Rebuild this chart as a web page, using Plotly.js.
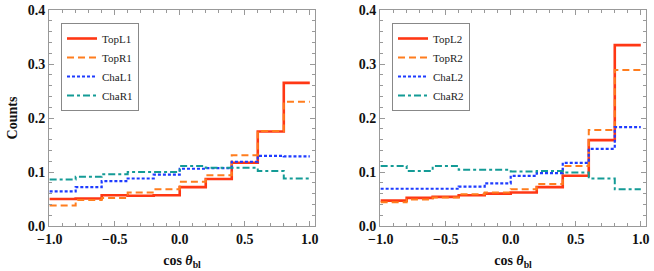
<!DOCTYPE html>
<html>
<head>
<meta charset="utf-8">
<script src="https://cdn.plot.ly/plotly-3.0.1.min.js"></script>
<style>html,body{margin:0;padding:0;background:#fff;}#chart{width:654px;height:271px;}</style>
</head>
<body>
<div id="chart"></div>
<script>
// Bin edges of cos(theta_bl), 10 bins of width 0.2
const binEdges = [-1.0, -0.8, -0.6, -0.4, -0.2, 0.0, 0.2, 0.4, 0.6, 0.8, 1.0];

// Left panel
const topL1 = [0.050, 0.051, 0.057, 0.056, 0.057, 0.072, 0.087, 0.117, 0.175, 0.265];
const topR1 = [0.038, 0.048, 0.052, 0.062, 0.068, 0.082, 0.094, 0.131, 0.176, 0.230];
const chaL1 = [0.064, 0.072, 0.083, 0.088, 0.095, 0.106, 0.107, 0.119, 0.130, 0.129];
const chaR1 = [0.086, 0.091, 0.096, 0.100, 0.100, 0.111, 0.108, 0.108, 0.102, 0.088];

// Right panel
const topL2 = [0.047, 0.052, 0.054, 0.057, 0.060, 0.062, 0.072, 0.093, 0.159, 0.335];
const topR2 = [0.044, 0.049, 0.053, 0.059, 0.062, 0.068, 0.078, 0.111, 0.178, 0.289];
const chaL2 = [0.069, 0.069, 0.069, 0.073, 0.079, 0.093, 0.098, 0.117, 0.143, 0.183];
const chaR2 = [0.111, 0.102, 0.111, 0.104, 0.104, 0.101, 0.102, 0.099, 0.088, 0.068];

const namesLeft = ['TopL1', 'TopR1', 'ChaL1', 'ChaR1'];
const namesRight = ['TopL2', 'TopR2', 'ChaL2', 'ChaR2'];
const yTickVals = [0.0, 0.1, 0.2, 0.3, 0.4];
const xTickVals = [-1.0, -0.5, 0.0, 0.5, 1.0];

const styles = [
  {color: 'rgb(255,55,20)', width: 2.6, dash: 'solid'},
  {color: 'rgb(255,125,30)', width: 2, dash: '7px,4px'},
  {color: 'rgb(30,60,255)', width: 2.2, dash: '3px,2px'},
  {color: 'rgb(20,155,150)', width: 2, dash: '7px,3px,3px,3px'}
];

function stepY(vals) { return vals.concat([vals[vals.length - 1]]); }

const traces = [];
[topL1, topR1, chaL1, chaR1].forEach((v, i) => {
  traces.push({x: binEdges, y: stepY(v), type: 'scatter', mode: 'lines', line: Object.assign({shape: 'hv'}, styles[i]),
    name: namesLeft[i], xaxis: 'x', yaxis: 'y', legend: 'legend', hoverinfo: 'skip'});
});
[topL2, topR2, chaL2, chaR2].forEach((v, i) => {
  traces.push({x: binEdges, y: stepY(v), type: 'scatter', mode: 'lines', line: Object.assign({shape: 'hv'}, styles[i]),
    name: namesRight[i], xaxis: 'x2', yaxis: 'y2', legend: 'legend2', hoverinfo: 'skip'});
});

const W = 654, H = 271;
const tickFont = {family: 'Liberation Serif, Times New Roman, serif', size: 14, color: '#111', weight: 'bold'};
const titleFont = {family: 'Liberation Serif, Times New Roman, serif', size: 14, color: '#111', weight: 'bold'};
const frame = '#999999';

function xAxis(d0, d1, anchor) {
  return {
    domain: [d0 / W, d1 / W], anchor: anchor, range: [-1.005, 1.04],
    tickvals: xTickVals, tickformat: '.1f', tickfont: tickFont,
    ticks: 'inside', ticklen: 5, tickwidth: 1, tickcolor: frame,
    minor: {dtick: 0.1, tick0: 0, ticks: 'inside', ticklen: 3, tickcolor: frame, showgrid: false},
    showline: true, linecolor: frame, linewidth: 1, mirror: 'allticks',
    showgrid: false, zeroline: false,
    title: {text: 'cos <i>θ</i><sub>bl</sub>', font: titleFont, standoff: 9}
  };
}
function yAxis(anchor, showTitle) {
  return {
    domain: [1 - 226 / H, 1 - 10 / H], anchor: anchor, range: [0, 0.4],
    tickvals: yTickVals, tickformat: '.1f', tickfont: tickFont,
    ticks: 'inside', ticklen: 5, tickwidth: 1, tickcolor: frame,
    minor: {dtick: 0.02, tick0: 0, ticks: 'inside', ticklen: 3, tickcolor: frame, showgrid: false},
    showline: true, linecolor: frame, linewidth: 1, mirror: 'allticks',
    showgrid: false, zeroline: false,
    title: showTitle ? {text: 'Counts', font: titleFont, standoff: 6} : {text: ''}
  };
}

const legendBase = {
  xanchor: 'left', yanchor: 'top', bgcolor: 'rgba(255,255,255,1)',
  bordercolor: '#888', borderwidth: 1,
  font: {family: 'Liberation Serif, Times New Roman, serif', size: 11, color: '#222'},
  tracegroupgap: 0, itemwidth: 30, entrywidth: 60, entrywidthmode: 'pixels'
};

const layout = {
  width: W, height: H,
  margin: {l: 0, r: 0, t: 0, b: 0},
  paper_bgcolor: '#fff', plot_bgcolor: '#fff',
  showlegend: true,
  xaxis: xAxis(49, 315, 'y'),
  yaxis: yAxis('x', true),
  xaxis2: xAxis(380, 646, 'y2'),
  yaxis2: yAxis('x2', false),
  legend: Object.assign({x: 61 / W, y: 1 - 23 / H}, legendBase),
  legend2: Object.assign({x: 392 / W, y: 1 - 23 / H}, legendBase)
};

Plotly.newPlot('chart', traces, layout, {staticPlot: true, displayModeBar: false});
</script>
</body>
</html>
